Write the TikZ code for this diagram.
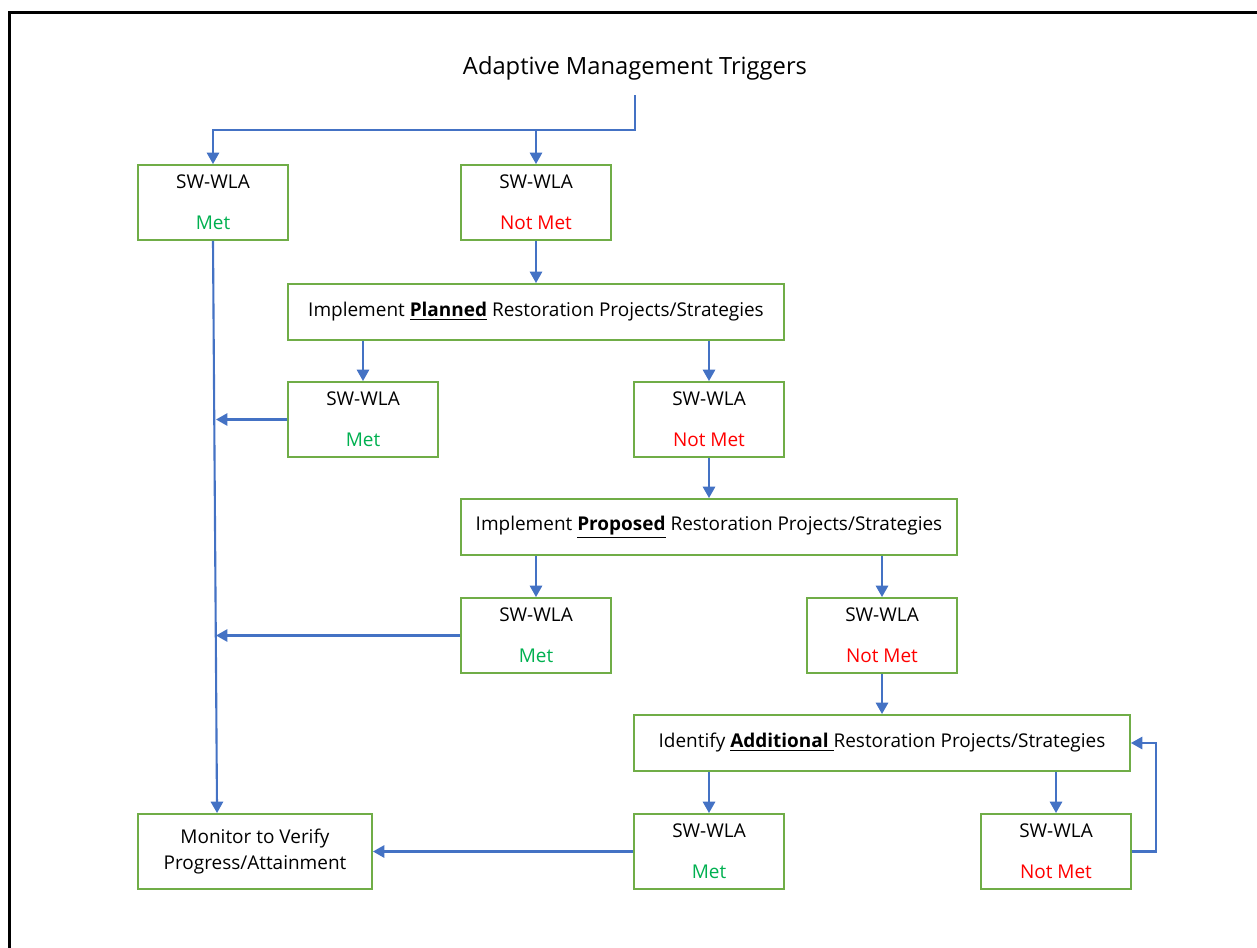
\documentclass[tikz,border=0pt]{standalone}
\usepackage{fontspec}
\setmainfont{Open Sans}
\usepackage{tikz}
\usetikzlibrary{arrows.meta}
\definecolor{FlowBlue}{RGB}{68,114,196}
\definecolor{BoxGreen}{RGB}{112,173,71}
\definecolor{MetGreen}{RGB}{0,176,80}
\definecolor{NotRed}{RGB}{255,0,0}

\newcommand{\wlamet}{SW-WLA\\[10.2pt]\textcolor{MetGreen}{Met}}
\newcommand{\wlanot}{SW-WLA\\[10.2pt]\textcolor{NotRed}{Not Met}}

\begin{document}
\begin{tikzpicture}[x=0.02cm, y=-0.02cm, font=\fontsize{10.8}{13}\selectfont,
    wla/.style={draw=BoxGreen, line width=1.1pt, minimum width=3cm, minimum height=1.5cm, align=center, inner sep=0pt},
    task/.style={wla, minimum width=9.92cm, minimum height=1.12cm},
    flow/.style={draw=FlowBlue, line width=1.2pt, -{Triangle[length=6.5pt,width=7pt]}}]
  \useasboundingbox (0,0) rectangle (1257,947);
  \draw[line width=1.2pt] (9.5,12.5) rectangle (1300,1000);

  \node[font=\fontsize{13.5}{16}\selectfont] (trig) at (635,68) {Adaptive Management Triggers};
  \coordinate (trigfoot) at (635,95);
  \coordinate (bar) at (635,130);
  \coordinate (spine) at (216,0);

  \node[wla] (met1) at (213,202.5) {\wlamet};
  \node[wla] (nmet1) at (536,202.5) {\wlanot};
  \node[task] (plan) at (536,312) {Implement \underline{\textbf{Planned}} Restoration Projects/Strategies};

  \node[wla] (met2) at (363,419.5) {\wlamet};
  \node[wla] (nmet2) at (709,419.5) {\wlanot};
  \node[task] (prop) at (709,527) {Implement \underline{\textbf{Proposed}} Restoration Projects/Strategies};

  \node[wla] (met3) at (536,635.5) {\wlamet};
  \node[wla] (nmet3) at (882,635.5) {\wlanot};
  \node[task] (add) at (882,743) {Identify \underline{\textbf{Additional}\ }Restoration Projects/Strategies};

  \node[wla] (met4) at (709,851.5) {\wlamet};
  \node[wla] (nmet4) at (1056,851.5) {\wlanot};
  \node[wla, minimum width=4.68cm] (mon) at (255,851.5) {Monitor to Verify\\[2pt]Progress/Attainment};

  \draw[flow] (trigfoot) -- (bar) -| (met1.north);
  \draw[flow] (nmet1.north |- bar) -- (nmet1.north);
  \draw[flow] (nmet1.south) -- (plan.north);
  \draw[flow] (met2.north |- plan.south) -- (met2.north);
  \draw[flow] (nmet2.north |- plan.south) -- (nmet2.north);
  \draw[flow] (nmet2.south) -- (prop.north);
  \draw[flow] (met3.north |- prop.south) -- (met3.north);
  \draw[flow] (nmet3.north |- prop.south) -- (nmet3.north);
  \draw[flow] (nmet3.south) -- (add.north);
  \draw[flow] (met4.north |- add.south) -- (met4.north);
  \draw[flow] (nmet4.north |- add.south) -- (nmet4.north);
  \draw[flow] (nmet4.east) -- ++(24,0) |- (add.east);

  \draw[flow] (met1.south) -- ([xshift=1.6cm]mon.north west);
  \draw[flow] (met2.west) -- (met2.west -| spine);
  \draw[flow] (met3.west) -- (met3.west -| spine);
  \draw[flow] (met4.west) -- (mon.east);
\end{tikzpicture}
\end{document}
